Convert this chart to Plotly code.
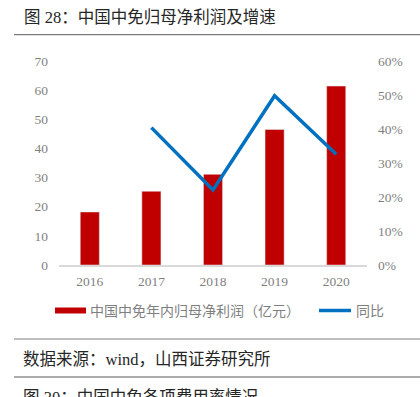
import plotly.graph_objects as go

years = ["2016", "2017", "2018", "2019", "2020"]
profit = [18.2, 25.3, 31.1, 46.5, 61.4]
yoy = [None, 0.404, 0.221, 0.498, 0.326]
left_ticks = [0, 10, 20, 30, 40, 50, 60, 70]
right_ticks = [0, 0.1, 0.2, 0.3, 0.4, 0.5, 0.6]

bar_name = "中国中免年内归母净利润（亿元）"
line_name = "同比"

W, H = 420, 397
L, R, T, B = 59, 53, 61, 132

serif = "Liberation Serif, Noto Sans CJK SC, serif"
cjk = "Liberation Serif, Noto Sans CJK SC, sans-serif"
gray = "#7f7f7f"

fig = go.Figure()
fig.add_trace(go.Bar(x=years, y=profit, name=bar_name, marker_color="#C00000",
                     width=0.31, yaxis="y"))
fig.add_trace(go.Scatter(x=years, y=yoy, name=line_name, mode="lines",
                         line=dict(color="#0070C0", width=3.5), yaxis="y2",
                         connectgaps=False))

fig.update_layout(
    width=W, height=H,
    margin=dict(l=L, r=R, t=T, b=B, autoexpand=False),
    paper_bgcolor="white", plot_bgcolor="white",
    showlegend=False,
    xaxis=dict(showline=True, linecolor="#d9d9d9", linewidth=1.5, ticks="",
               tickfont=dict(family=serif, size=13.5, color=gray),
               ticklabelstandoff=3),
    yaxis=dict(range=[0, 70], tickvals=left_ticks, showgrid=False, zeroline=False,
               ticks="", tickfont=dict(family=serif, size=13.5, color=gray),
               ticklabelstandoff=10),
    yaxis2=dict(range=[0, 0.6], tickvals=right_ticks, tickformat=".0%",
                overlaying="y", side="right", showgrid=False, zeroline=False,
                ticks="", tickfont=dict(family=serif, size=13.5, color=gray),
                ticklabelstandoff=10),
)

plot_w = W - L - R
plot_h = H - T - B

def fx(x):
    return (x - L) / plot_w

def fy(y):
    return (H - B - y) / plot_h

shapes = []
for yy, col in [(34.7, "#595959"), (339, "#7f7f7f"), (377, "#595959")]:
    shapes.append(dict(type="line", xref="paper", yref="paper", x0=fx(14), x1=fx(420),
                       y0=fy(yy), y1=fy(yy), line=dict(color=col, width=1)))
# legend swatches
shapes.append(dict(type="rect", xref="paper", yref="paper", x0=fx(55), x1=fx(86),
                   y0=fy(313.5), y1=fy(307.5), fillcolor="#C00000", line=dict(width=0)))
shapes.append(dict(type="line", xref="paper", yref="paper", x0=fx(319), x1=fx(351),
                   y0=fy(310.5), y1=fy(310.5), line=dict(color="#0070C0", width=3.5)))
fig.update_layout(shapes=shapes)

annotations = [
    dict(text="图 28：中国中免归母净利润及增速", x=fx(22), y=fy(17), xanchor="left",
         yanchor="middle", font=dict(family=cjk, size=16.5, color="#262626")),
    dict(text=bar_name, x=fx(88), y=fy(311), xanchor="left", yanchor="middle",
         font=dict(family=cjk, size=14, color=gray)),
    dict(text=line_name, x=fx(354), y=fy(311), xanchor="left", yanchor="middle",
         font=dict(family=cjk, size=14, color=gray)),
    dict(text="数据来源：wind，山西证券研究所", x=fx(21), y=fy(359), xanchor="left",
         yanchor="middle", font=dict(family=cjk, size=16.5, color="#262626")),
    dict(text="图 30：中国中免各项费用率情况", x=fx(21), y=fy(386), xanchor="left",
         yanchor="top", font=dict(family=cjk, size=16.5, color="#262626")),
]
for a in annotations:
    a.update(xref="paper", yref="paper", showarrow=False)
fig.update_layout(annotations=annotations)

fig.write_html("out.html", config={"displayModeBar": False},
               post_script="document.body.style.margin='0';document.body.style.overflow='hidden';")
